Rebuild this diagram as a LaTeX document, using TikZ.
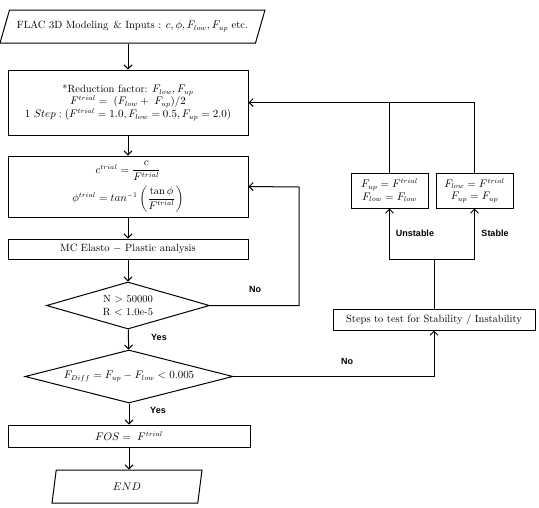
\documentclass[tikz,border=0pt]{standalone}
\usepackage{amsmath}
\usepackage{fontspec}
\newfontfamily\lblfont{Liberation Sans}
\usetikzlibrary{shapes.geometric,arrows.meta}

\begin{document}
\begin{tikzpicture}[x=1pt, y=-1pt, line width=1pt,
    >={Straight Barb[length=4pt,width=8pt]},
    every node/.style={font=\fontsize{10.5}{12.5}\selectfont},
    box/.style={draw, rectangle, align=center, inner sep=1pt},
    decision/.style={draw, diamond, align=center, inner sep=0pt},
    io/.style={draw, trapezium, trapezium stretches body, inner sep=1pt},
    lbl/.style={font=\lblfont\bfseries\small}]
\useasboundingbox (0, 0) rectangle (539, 507);
% main column
\node[io, trapezium left angle=53, trapezium right angle=127,
      minimum width=265, minimum height=33] (input) at (132.5, 26.5)
    {FLAC 3D Modeling \,\& Inputs : $c, \phi, F_{low}, F_{up}$ etc.};
\node[box, minimum width=240, minimum height=65] (reduce) at (128, 102.5)
    {*Reduction factor: $F_{low}, F_{up}$\\
     $F^{trial} = \;(F_{low} + \;F_{up})/2$\\
     $1\ Step : (F^{trial} = 1.0, F_{low} = 0.5, F_{up} = 2.0)$};
\node[box, minimum width=240, minimum height=61] (trial) at (128, 186.5)
    {$c^{trial} = \dfrac{c}{F^{trial}}$\\[4pt]
     $\phi^{trial} = tan^{-1}\left(\dfrac{\tan\phi}{F^{trial}}\right)$};
\node[box, minimum width=240, minimum height=20] (elasto) at (128, 249)
    {MC Elasto $-$ Plastic analysis};
\node[decision, aspect=3.47, minimum width=163, minimum height=47] (conv) at (128, 305.5)
    {N $>$ 50000\\ R $<$ 1.0e-5};
\node[decision, aspect=3.92, minimum width=208, minimum height=53] (diff) at (129, 376.5)
    {$F_{Diff} = F_{up} - F_{low} < 0.005$};
\node[box, minimum width=242, minimum height=22] (fos) at (129, 436)
    {$FOS = \;F^{trial}$};
\node[io, trapezium left angle=66, trapezium right angle=114,
      minimum width=150, minimum height=33] (end) at (127, 486.5)
    {$END$};
% right column
\node[box, minimum width=202, minimum height=21] (steps) at (434, 319.5)
    {Steps to test for Stability / Instability};
\node[box, minimum width=77, minimum height=35] (unst) at (389.5, 190.5)
    {$F_{up} = F^{trial}$\\ $F_{low} = F_{low}$};
\node[box, minimum width=77, minimum height=35] (stab) at (474.5, 190.5)
    {$F_{low} = F^{trial}$\\ $F_{up} = F_{up}$};
\coordinate (back) at (299, 187);
\coordinate (split) at (434, 259);
% connectors
\draw[->] (input.south -| reduce.north) -- (reduce.north);
\draw[->] (reduce) -- (trial);
\draw[->] (trial) -- (elasto);
\draw[->] (elasto) -- (conv);
\draw[->] (conv) -- (diff);
\draw[->] (diff) -- (fos);
\draw[->] (fos) -- (fos.south |- end.north);
\draw[->] (conv.east) -| (back) -- (trial.east);
\draw[->] (diff.east) -| (steps.south);
\draw (steps.north) -- (split);
\draw[->] (split) -| (unst.south);
\draw[->] (split) -| (stab.south);
\draw[->] (unst.north) |- (reduce.east);
\draw (stab.north) |- (unst.north |- reduce.east);
% labels
\node[lbl] (no1) at (255, 289) {No};
\node[lbl] (yes1) at (159, 337) {Yes};
\node[lbl] (no2) at (347, 361) {No};
\node[lbl] (yes2) at (158, 410) {Yes};
\node[lbl] (unstlbl) at (415, 233) {Unstable};
\node[lbl] (stablbl) at (495, 233) {Stable};
\end{tikzpicture}
\end{document}
